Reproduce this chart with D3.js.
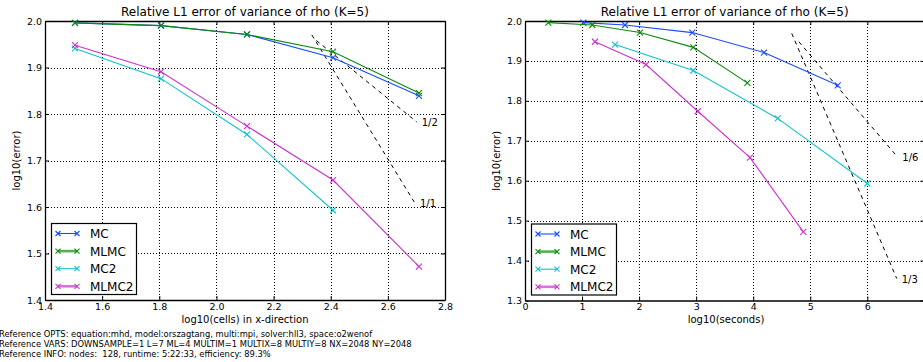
<!DOCTYPE html>
<html>
<head>
<meta charset="utf-8">
<script src="https://cdn.jsdelivr.net/npm/d3@7"></script>
<style>
  html, body { margin: 0; padding: 0; background: #fff; }
  svg { display: block; font-family: "DejaVu Sans", sans-serif; }
</style>
</head>
<body>
<svg id="chart" width="923" height="362"></svg>
<script>
// ---- data ----
const seriesNames = ["MC", "MLMC", "MC2", "MLMC2"];
const seriesColors = ["#1a4cff", "#0e8a0e", "#12c2c8", "#cc33cc"];

// log10(cells) in x-direction
const cellsMC    = [1.505, 1.806, 2.107, 2.408, 2.709];
const cellsMLMC  = [1.505, 1.806, 2.107, 2.408, 2.709];
const cellsMC2   = [1.505, 1.806, 2.107, 2.408];
const cellsMLMC2 = [1.505, 1.806, 2.107, 2.408, 2.709];

// log10(seconds)
const secMC    = [1.022, 1.753, 2.933, 4.189, 5.481];
const secMLMC  = [0.409, 1.180, 2.016, 2.950, 3.897];
const secMC2   = [1.578, 2.950, 4.429, 6.000];
const secMLMC2 = [1.227, 2.121, 3.028, 3.944, 4.878];

// log10(error)
const errMC    = [1.996, 1.990, 1.971, 1.921, 1.839];
const errMLMC  = [1.996, 1.990, 1.971, 1.934, 1.845];
const errMC2   = [1.941, 1.876, 1.756, 1.593];
const errMLMC2 = [1.948, 1.891, 1.774, 1.658, 1.472];

// convergence-rate guide lines: [x0, y0, x1, y1] and label
const rateLabelsCells = ["1/2", "1/1"];
const rateLinesCells = [[2.350, 1.958, 2.701, 1.783], [2.334, 1.970, 2.695, 1.608]];
const rateLabelsTime = ["1/6", "1/3"];
const rateLinesTime = [[4.800, 1.948, 6.526, 1.660], [4.675, 1.969, 6.515, 1.355]];

const xTicksCells = [1.4, 1.6, 1.8, 2.0, 2.2, 2.4, 2.6, 2.8];
const yTicksCells = [1.4, 1.5, 1.6, 1.7, 1.8, 1.9, 2.0];
const xTicksTime = [0, 1, 2, 3, 4, 5, 6, 7];
const yTicksTime = [1.3, 1.4, 1.5, 1.6, 1.7, 1.8, 1.9, 2.0];

const titleText = "Relative L1 error of variance of rho (K=5)";
const footerLines = [
  "Reference OPTS: equation:mhd, model:orszagtang, multi:mpi, solver:hll3, space:o2wenof",
  "Reference VARS: DOWNSAMPLE=1 L=7 ML=4 MULTIM=1 MULTIX=8 MULTIY=8 NX=2048 NY=2048",
  "Reference INFO: nodes:  128, runtime: 5:22:33, efficiency: 89.3%"
];

// ---- drawing ----
const svg = d3.select("#chart");

function panel(cfg) {
  const g = svg.append("g");
  const x = d3.scaleLinear().domain(cfg.xDomain).range([cfg.left, cfg.right]);
  const y = d3.scaleLinear().domain(cfg.yDomain).range([cfg.bottom, cfg.top]);

  const clipId = "clip" + cfg.id;
  svg.append("clipPath").attr("id", clipId)
    .append("rect").attr("x", cfg.left).attr("y", cfg.top)
    .attr("width", cfg.right - cfg.left).attr("height", cfg.bottom - cfg.top);

  // grid
  const grid = g.append("g").attr("stroke", "#000").attr("stroke-width", 1)
    .attr("stroke-dasharray", "1,2").attr("shape-rendering", "crispEdges");
  cfg.xTicks.slice(1, -1).forEach(t => {
    grid.append("line").attr("x1", Math.round(x(t)) + 0.5).attr("x2", Math.round(x(t)) + 0.5)
      .attr("y1", cfg.top).attr("y2", cfg.bottom);
  });
  cfg.yTicks.slice(1, -1).forEach(t => {
    grid.append("line").attr("y1", Math.round(y(t)) + 0.5).attr("y2", Math.round(y(t)) + 0.5)
      .attr("x1", cfg.left).attr("x2", cfg.right);
  });

  // axes with inward ticks on all sides
  const axB = g.append("g").attr("transform", `translate(0,${cfg.bottom})`)
    .call(d3.axisBottom(x).tickValues(cfg.xTicks).tickSizeInner(-4).tickSizeOuter(0).tickPadding(3).tickFormat(cfg.xFormat));
  const axT = g.append("g").attr("transform", `translate(0,${cfg.top})`)
    .call(d3.axisTop(x).tickValues(cfg.xTicks).tickSizeInner(-4).tickSizeOuter(0).tickFormat(""));
  const axL = g.append("g").attr("transform", `translate(${cfg.left},0)`)
    .call(d3.axisLeft(y).tickValues(cfg.yTicks).tickSizeInner(-4).tickSizeOuter(0).tickPadding(3).tickFormat(d3.format(".1f")));
  const axR = g.append("g").attr("transform", `translate(${cfg.right},0)`)
    .call(d3.axisRight(y).tickValues(cfg.yTicks).tickSizeInner(-4).tickSizeOuter(0).tickFormat(""));
  [axB, axT, axL, axR].forEach(a => {
    a.select(".domain").attr("stroke", "#000").attr("stroke-width", 1.3);
    a.selectAll(".tick line").attr("stroke", "#000");
    a.selectAll("text").attr("font-size", 9.5).attr("fill", "#000")
      .attr("font-family", "DejaVu Sans");
  });

  // guide lines
  const guides = g.append("g").attr("clip-path", `url(#${clipId})`);
  cfg.rates.forEach((r, i) => {
    guides.append("line")
      .attr("x1", x(r[0])).attr("y1", y(r[1])).attr("x2", x(r[2])).attr("y2", y(r[3]))
      .attr("stroke", "#000").attr("stroke-width", 1).attr("stroke-dasharray", "4,4");
    g.append("text").attr("x", x(r[2]) + 5).attr("y", y(r[3]) + 4)
      .attr("font-size", 10).text(cfg.rateLabels[i]);
  });

  // series
  const lineGen = d3.line().x(d => x(d[0])).y(d => y(d[1]));
  cfg.series.forEach((s, i) => {
    const pts = s.xs.map((v, k) => [v, s.ys[k]]);
    const sg = g.append("g");
    sg.append("path").attr("d", lineGen(pts)).attr("fill", "none")
      .attr("stroke", seriesColors[i]).attr("stroke-width", 1.1);
    pts.forEach(p => {
      const cx = x(p[0]), cy = y(p[1]), m = 3;
      sg.append("path")
        .attr("d", `M${cx - m},${cy - m}L${cx + m},${cy + m}M${cx - m},${cy + m}L${cx + m},${cy - m}`)
        .attr("stroke", seriesColors[i]).attr("stroke-width", 1.1);
    });
  });

  // legend
  const lg = g.append("g").attr("transform", `translate(${cfg.left + 6},${cfg.bottom - 77})`);
  lg.append("rect").attr("x", 0.5).attr("y", 0.5).attr("width", 85).attr("height", 71)
    .attr("fill", "#fff").attr("stroke", "#000").attr("stroke-width", 1.2);
  seriesNames.forEach((name, i) => {
    const yy = 10.5 + i * 17.6;
    const thick = (i % 2 === 1);
    lg.append("line").attr("x1", 7).attr("x2", 26).attr("y1", yy).attr("y2", yy)
      .attr("stroke", seriesColors[i]).attr("stroke-width", thick ? 2.6 : 1.1)
      .attr("stroke-opacity", thick ? 0.7 : 1);
    [7, 26].forEach(mx => {
      lg.append("path")
        .attr("d", `M${mx - 2.5},${yy - 2.5}L${mx + 2.5},${yy + 2.5}M${mx - 2.5},${yy + 2.5}L${mx + 2.5},${yy - 2.5}`)
        .attr("stroke", seriesColors[i]).attr("stroke-width", 1.1);
    });
    lg.append("text").attr("x", 39).attr("y", yy + 4.5).attr("font-size", 12).text(name);
  });

  // titles
  const cx = (cfg.left + cfg.right) / 2;
  g.append("text").attr("x", cx).attr("y", 16).attr("text-anchor", "middle")
    .attr("font-size", 12).text(titleText);
  g.append("text").attr("x", cfg.xLabelX).attr("y", 322.5).attr("text-anchor", "middle")
    .attr("font-size", 10).text(cfg.xLabel);
  g.append("text").attr("transform", `translate(${cfg.left - 25},${(cfg.top + cfg.bottom) / 2}) rotate(-90)`)
    .attr("text-anchor", "middle").attr("font-size", 10).text("log10(error)");
}

panel({
  id: "A", left: 45, right: 445, top: 21, bottom: 300,
  xDomain: [1.4, 2.8], yDomain: [1.4, 2.0],
  xTicks: xTicksCells, yTicks: yTicksCells, xFormat: d3.format(".1f"),
  xLabel: "log10(cells) in x-direction", xLabelX: 245,
  rates: rateLinesCells, rateLabels: rateLabelsCells,
  series: [
    { xs: cellsMC, ys: errMC },
    { xs: cellsMLMC, ys: errMLMC },
    { xs: cellsMC2, ys: errMC2 },
    { xs: cellsMLMC2, ys: errMLMC2 }
  ]
});

// the right panel runs past the page edge, so its last tick label is left blank
panel({
  id: "B", left: 525, right: 924.4, top: 21, bottom: 300.5,
  xDomain: [0, 7], yDomain: [1.3, 2.0],
  xTicks: xTicksTime, yTicks: yTicksTime, xFormat: d => (d >= 7 ? "" : d3.format("d")(d)),
  xLabel: "log10(seconds)", xLabelX: 726,
  rates: rateLinesTime, rateLabels: rateLabelsTime,
  series: [
    { xs: secMC, ys: errMC },
    { xs: secMLMC, ys: errMLMC },
    { xs: secMC2, ys: errMC2 },
    { xs: secMLMC2, ys: errMLMC2 }
  ]
});

// run information footer
footerLines.forEach((t, i) => {
  svg.append("text").attr("x", -1).attr("y", 336.5 + i * 10)
    .attr("font-size", 8.35).style("white-space", "pre").text(t);
});
</script>
</body>
</html>
